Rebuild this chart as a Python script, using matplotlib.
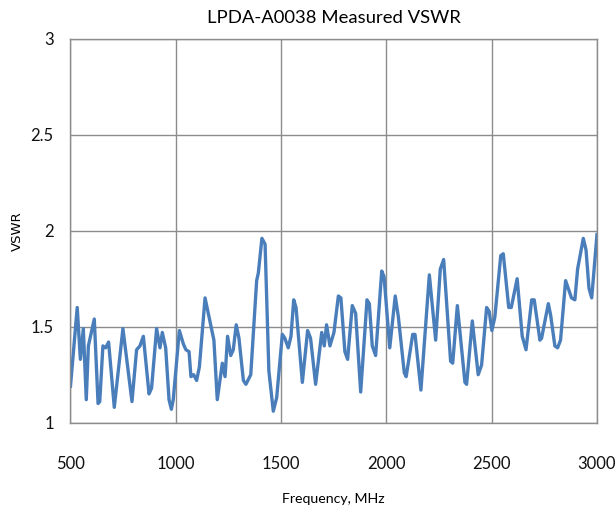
import matplotlib
matplotlib.use("Agg")
import matplotlib.pyplot as plt

# Datos (frecuencia en MHz, VSWR)
freq = [500, 532, 547, 561, 575, 585, 613, 631, 639, 654, 667, 681, 708, 749,
        792, 814, 830, 846, 873, 885, 909, 925, 936, 952, 968, 979, 988, 1017,
        1036, 1048, 1063, 1072, 1085, 1099, 1112, 1139, 1162, 1181, 1197, 1221,
        1234, 1246, 1261, 1273, 1287, 1300, 1321, 1333, 1356, 1384, 1392, 1409,
        1424, 1442, 1463, 1479, 1506, 1518, 1534, 1547, 1560, 1571, 1601, 1626,
        1640, 1664, 1693, 1705, 1716, 1732, 1751, 1772, 1784, 1803, 1816, 1838,
        1854, 1878, 1908, 1919, 1933, 1949, 1978, 1989, 2016, 2042, 2057, 2085,
        2094, 2125, 2136, 2164, 2204, 2234, 2256, 2272, 2305, 2315, 2337, 2373,
        2381, 2408, 2436, 2452, 2476, 2488, 2501, 2515, 2543, 2555, 2581, 2593,
        2621, 2645, 2663, 2690, 2702, 2729, 2737, 2769, 2780, 2800, 2813, 2827,
        2851, 2879, 2895, 2908, 2935, 2948, 2962, 2975, 3000]
vswr = [1.19, 1.60, 1.33, 1.49, 1.12, 1.40, 1.54, 1.10, 1.11, 1.40, 1.39, 1.42,
        1.08, 1.49, 1.11, 1.38, 1.40, 1.45, 1.15, 1.18, 1.49, 1.39, 1.47, 1.39,
        1.12, 1.07, 1.12, 1.48, 1.41, 1.38, 1.37, 1.24, 1.25, 1.22, 1.29, 1.65,
        1.53, 1.43, 1.12, 1.31, 1.24, 1.45, 1.35, 1.38, 1.51, 1.44, 1.22, 1.20,
        1.25, 1.74, 1.78, 1.96, 1.93, 1.27, 1.06, 1.13, 1.46, 1.44, 1.39, 1.45,
        1.64, 1.60, 1.21, 1.48, 1.44, 1.20, 1.47, 1.40, 1.51, 1.40, 1.47, 1.66,
        1.65, 1.37, 1.33, 1.61, 1.57, 1.16, 1.64, 1.62, 1.40, 1.35, 1.79, 1.76,
        1.39, 1.66, 1.55, 1.26, 1.24, 1.46, 1.46, 1.17, 1.77, 1.43, 1.80, 1.85,
        1.32, 1.31, 1.61, 1.21, 1.20, 1.53, 1.25, 1.30, 1.60, 1.58, 1.48, 1.55,
        1.87, 1.88, 1.60, 1.60, 1.75, 1.45, 1.38, 1.64, 1.64, 1.43, 1.44, 1.62,
        1.56, 1.40, 1.39, 1.43, 1.74, 1.65, 1.64, 1.80, 1.96, 1.90, 1.70, 1.65,
        1.98]

xticks = [500, 1000, 1500, 2000, 2500, 3000]
yticks = [1, 1.5, 2, 2.5, 3]
ytick_labels = ["1", "1.5", "2", "2.5", "3"]

plt.rcParams['font.family'] = ['Lato', 'DejaVu Sans']

fig = plt.figure(figsize=(6.15, 5.15), dpi=100)
ax = fig.add_axes([0.1146, 0.1792, 0.8561, 0.7457])

ax.plot(freq, vswr, color='#4A7EBB', linewidth=2.4, solid_joinstyle='round')

ax.set_xlim(500, 3000)
ax.set_ylim(1, 3)
ax.set_xticks(xticks)
ax.set_yticks(yticks)
ax.set_yticklabels(ytick_labels)
ax.grid(True, color='#8c8c8c', linewidth=1.0)
ax.set_axisbelow(True)
for s in ax.spines.values():
    s.set_color('#8c8c8c')
    s.set_linewidth(1.0)
ax.tick_params(axis='both', length=0, labelsize=12, colors='#111111')
ax.tick_params(axis='x', pad=24)
ax.tick_params(axis='y', pad=12)

ax.set_title('LPDA-A0038 Measured VSWR', fontsize=13.3, pad=11)
ax.set_xlabel('Frequency, MHz', fontsize=10.2, labelpad=15)
ax.set_ylabel('VSWR', fontsize=9.5, family=['DejaVu Sans'])
ax.yaxis.set_label_coords(-0.088, 0.5)

fig.savefig('out.png', dpi=100)
